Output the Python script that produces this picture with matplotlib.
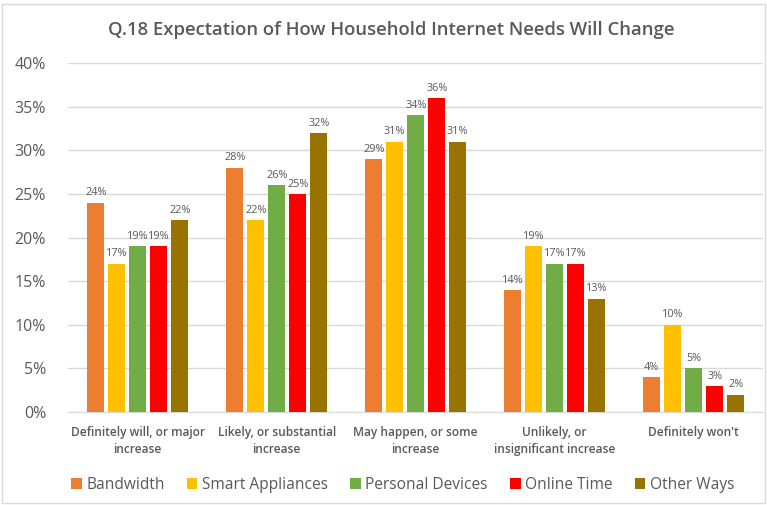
import matplotlib
matplotlib.use("Agg")
import matplotlib.pyplot as plt
import numpy as np
from matplotlib.patches import Rectangle

# chart data
categories = ["Definitely will, or major\nincrease", "Likely, or substantial\nincrease",
              "May happen, or some\nincrease", "Unlikely, or\ninsignificant increase",
              "Definitely won't"]
series = ["Bandwidth", "Smart Appliances", "Personal Devices", "Online Time", "Other Ways"]
bandwidth = [24, 28, 29, 14, 4]
smart_appliances = [17, 22, 31, 19, 10]
personal_devices = [19, 26, 34, 17, 5]
online_time = [19, 25, 36, 17, 3]
other_ways = [22, 32, 31, 13, 2]
yticks = [0, 5, 10, 15, 20, 25, 30, 35, 40]

values = [bandwidth, smart_appliances, personal_devices, online_time, other_ways]
colors = ["#ED7D31", "#FFC000", "#70AD47", "#FF0000", "#997300"]
txt = "#595959"

plt.rcParams['font.family'] = ['Open Sans', 'DejaVu Sans']

fig = plt.figure(figsize=(7.67, 5.05), dpi=100)
ax = fig.add_axes([0.089, 0.184, 0.906, 0.691])

x = np.arange(len(categories))
step = 0.151
width = 0.122
for i, (name, vals) in enumerate(zip(series, values)):
    pos = x + (i - 2) * step
    ax.bar(pos, vals, width, color=colors[i], label=name, zorder=3)
    for p, v in zip(pos, vals):
        ax.text(p, v + 0.5, f"{v}%", ha="center", va="bottom", fontsize=7.8, color=txt)

ax.set_xlim(-0.5, len(categories) - 0.5)
ax.set_ylim(0, 40)
ax.set_yticks(yticks)
ax.set_yticklabels([f"{t}%" for t in yticks], fontsize=11.5, color=txt)
ax.yaxis.grid(True, color="#D9D9D9", linewidth=1, zorder=0)
ax.set_xticks(x)
ax.set_xticklabels(categories, fontsize=8.6, color=txt, fontweight="semibold",
                   linespacing=1.45)
ax.tick_params(axis="y", length=0, pad=16)
ax.tick_params(axis="x", length=0, pad=10)
for s in ["top", "right", "left"]:
    ax.spines[s].set_visible(False)
ax.spines["bottom"].set_color("#D9D9D9")

fig.text(0.51, 0.94, "Q.18 Expectation of How Household Internet Needs Will Change",
         ha="center", va="center", fontsize=13.3, fontweight="semibold", color=txt)

fig.legend(loc="lower center", bbox_to_anchor=(0.525, -0.003), ncol=5, frameon=False,
           fontsize=11.2, labelcolor=txt, handlelength=0.7, handleheight=0.7,
           handletextpad=0.3, columnspacing=1.4)

fig.patches.append(Rectangle((0.002, 0.003), 0.996, 0.99, transform=fig.transFigure,
                             fill=False, edgecolor="#D9D9D9", linewidth=1))

fig.savefig("out.png", dpi=100)
